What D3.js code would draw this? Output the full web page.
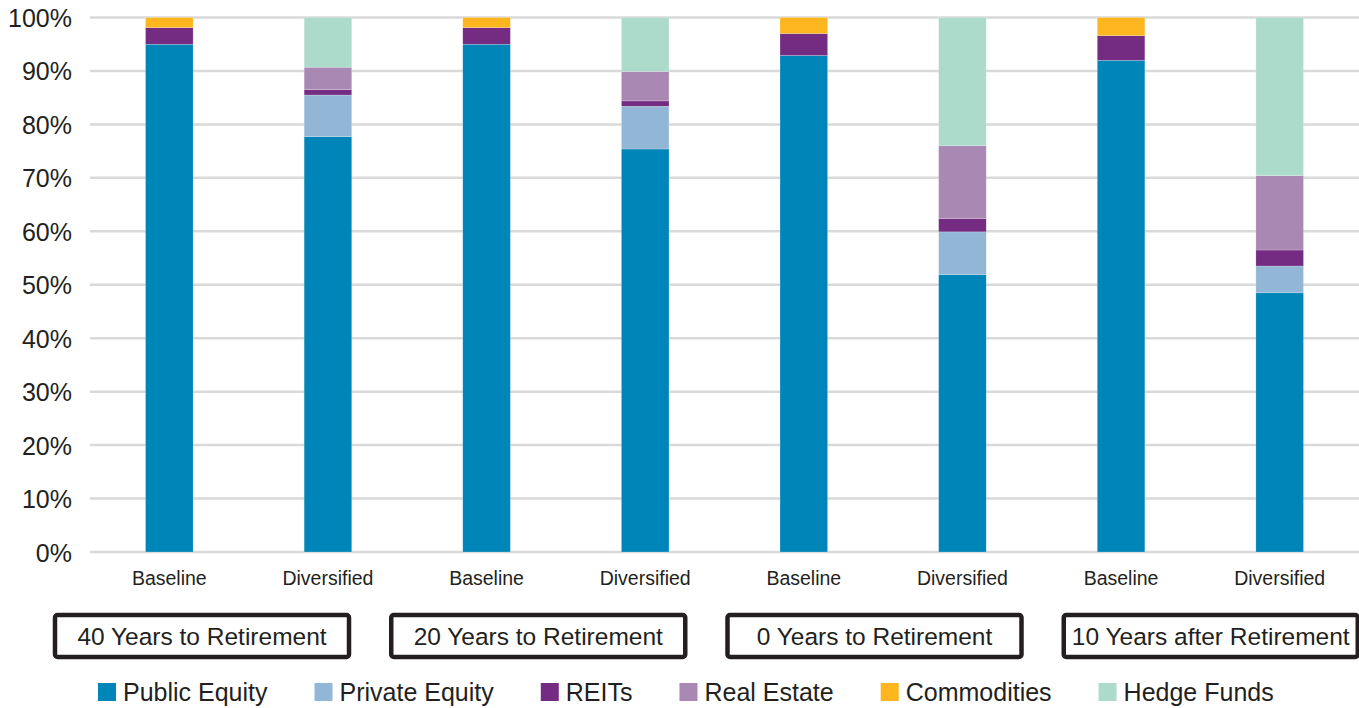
<!DOCTYPE html>
<html>
<head>
<meta charset="utf-8">
<script src="https://cdn.jsdelivr.net/npm/d3@7/dist/d3.min.js"></script>
<style>
  html, body { margin: 0; padding: 0; background: #fff; }
  svg { display: block; font-family: "Liberation Sans", Arial, Helvetica, sans-serif; }
</style>
</head>
<body>
<svg id="chart" width="1359" height="708"></svg>
<script>
const bars = ["Baseline", "Diversified", "Baseline", "Diversified", "Baseline", "Diversified", "Baseline", "Diversified"];
const groups = ["40 Years to Retirement", "20 Years to Retirement", "0 Years to Retirement", "10 Years after Retirement"];
const seriesNames = ["Public Equity", "Private Equity", "REITs", "Real Estate", "Commodities", "Hedge Funds"];
const seriesColors = ["#0085B8", "#92B6D6", "#742B82", "#AA88B4", "#FDB61E", "#ADDBCB"];
const publicEquity  = [95.0, 77.7, 95.0, 75.4, 92.9, 51.9, 92.0, 48.5];
const privateEquity = [0,    7.8,  0,    8.0,  0,    8.0,  0,    5.0];
const reits         = [3.1,  1.0,  3.1,  1.0,  4.1,  2.5,  4.6,  3.0];
const realEstate    = [0,    4.2,  0,    5.5,  0,    13.6, 0,    13.9];
const commodities   = [1.9,  0,    1.9,  0,    3.0,  0,    3.4,  0];
const hedgeFunds    = [0,    9.3,  0,    10.1, 0,    24.0, 0,    29.6];
const yTicks = [0, 10, 20, 30, 40, 50, 60, 70, 80, 90, 100];

const seriesValues = [publicEquity, privateEquity, reits, realEstate, commodities, hedgeFunds];
const rows = bars.map((b, i) => {
  const r = { idx: i, label: b };
  seriesNames.forEach((s, k) => r[s] = seriesValues[k][i]);
  return r;
});

const svg = d3.select("#chart");
const margin = { left: 90, right: 0, top: 17.5, bottom: 156 };
const W = 1359, H = 708;
const txt = "#231f20";

const x = d3.scaleBand().domain(d3.range(bars.length)).range([margin.left, W - margin.right]).paddingInner(0.7).paddingOuter(0.35);
const y = d3.scaleLinear().domain([0, 100]).range([H - margin.bottom, margin.top]);

// gridlines
svg.append("g").selectAll("line").data(yTicks).join("line")
  .attr("x1", margin.left).attr("x2", W)
  .attr("y1", d => y(d)).attr("y2", d => y(d))
  .attr("stroke", "#d9d9d9").attr("stroke-width", 2.5);

// y-axis
const yAxis = d3.axisLeft(y).tickValues(yTicks).tickFormat(d => d + "%").tickSize(0).tickPadding(0);
const ya = svg.append("g").attr("transform", `translate(72,0)`).call(yAxis);
ya.select(".domain").remove();
ya.selectAll("text").attr("font-size", 25).attr("fill", txt).attr("font-family", "Liberation Sans, Arial, sans-serif").attr("dy", "0.36em");

// stacked bars
const stack = d3.stack().keys(seriesNames);
const stacked = stack(rows);
const color = d3.scaleOrdinal().domain(seriesNames).range(seriesColors);

svg.append("g").selectAll("g").data(stacked).join("g")
  .attr("fill", d => color(d.key))
  .selectAll("rect").data(d => d.filter(p => p[1] - p[0] > 0)).join("rect")
  .attr("x", d => x(d.data.idx))
  .attr("width", x.bandwidth())
  .attr("y", d => y(d[1]))
  .attr("height", d => y(d[0]) - y(d[1]))
  .attr("stroke", "rgba(255,255,255,0.35)")
  .attr("stroke-width", 0.6);

// x-axis labels
const xAxis = d3.axisBottom(x).tickFormat(i => bars[i]).tickSize(0).tickPadding(0);
const xa = svg.append("g").attr("transform", `translate(0,${y(0) + 19})`).call(xAxis);
xa.select(".domain").remove();
xa.selectAll("text").attr("font-size", 19.5).attr("fill", txt).attr("font-family", "Liberation Sans, Arial, sans-serif").attr("dy", "0.71em");

// group boxes
const gx = d3.scaleBand().domain(d3.range(groups.length)).range([55, 1358 + 42]).paddingInner(0).paddingOuter(0);
const boxW = 294, boxH = 42;
const gb = svg.append("g").selectAll("g").data(groups).join("g")
  .attr("transform", (d, i) => `translate(${gx(i)},615)`);
gb.append("rect").attr("width", boxW).attr("height", boxH)
  .attr("fill", "#fff").attr("stroke", txt).attr("stroke-width", 4.5).attr("rx", 2.5);
gb.append("text").attr("x", boxW / 2).attr("y", boxH / 2).attr("dy", "0.36em")
  .attr("text-anchor", "middle").attr("font-size", 24.5).attr("fill", txt).text(d => d);

// legend
const lg = svg.append("g").attr("transform", "translate(98,692)");
let cx = 0;
seriesNames.forEach((s, i) => {
  const g = lg.append("g").attr("transform", `translate(${cx},0)`);
  g.append("rect").attr("x", 0).attr("y", -9).attr("width", 18).attr("height", 18).attr("fill", seriesColors[i]);
  const t = g.append("text").attr("x", 25).attr("y", 0).attr("dy", "0.36em")
    .attr("font-size", 25).attr("fill", txt).text(s);
  cx += 25 + t.node().getComputedTextLength() + 47;
});
</script>
</body>
</html>
